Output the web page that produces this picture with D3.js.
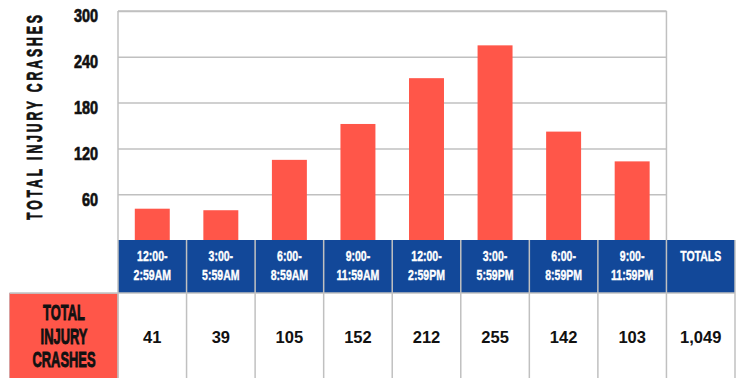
<!DOCTYPE html>
<html>
<head>
<meta charset="utf-8">
<script src="https://cdn.jsdelivr.net/npm/d3@7"></script>
<style>
  body { margin: 0; background: #fff; }
  svg { display: block; }
</style>
</head>
<body>
<div id="chart"></div>
<script>
var timeSlots = [["12:00-", "2:59AM"], ["3:00-", "5:59AM"], ["6:00-", "8:59AM"], ["9:00-", "11:59AM"],
                 ["12:00-", "2:59PM"], ["3:00-", "5:59PM"], ["6:00-", "8:59PM"], ["9:00-", "11:59PM"]];
var crashes = [41, 39, 105, 152, 212, 255, 142, 103];
var yTicks = [60, 120, 180, 240, 300];
var axisTitle = "TOTAL INJURY CRASHES";
var rowLabel = ["TOTAL", "INJURY", "CRASHES"];
var totalsLabel = "TOTALS";

var width = 740, height = 378;
// no condensed face installed, so bold Liberation Sans gets squeezed horizontally
// and given a thin stroke to keep it heavy
var font = "'Liberation Sans', Arial, sans-serif";
var red = "#ff5649", blue = "#124899", grid = "#c0c0c0";

var svg = d3.select("#chart").append("svg")
    .attr("width", width)
    .attr("height", height);

var keys = d3.range(crashes.length).concat(["totals"]);
var col = d3.scaleBand().domain(keys).range([118, 735]);
var plotRight = col(crashes.length - 1) + col.bandwidth();

var x = d3.scaleBand().domain(d3.range(crashes.length)).range([118, plotRight]).paddingInner(0.49).paddingOuter(0.245);
var y = d3.scaleLinear().domain([0, 300]).range([240, 11]);

// gridlines
var gridAxis = d3.axisLeft(y).tickValues(yTicks).tickSize(-(plotRight - 118)).tickFormat("");
svg.append("g")
    .attr("transform", "translate(118,0)")
    .call(gridAxis)
    .call(function(g) {
        g.select(".domain").remove();
        g.selectAll("line").attr("stroke", grid).attr("stroke-width", 1.5);
    });

// tick labels
var labelAxis = d3.axisLeft(y).tickValues(yTicks).tickSize(0).tickPadding(0);
svg.append("g")
    .attr("transform", "translate(98,5)")
    .call(labelAxis)
    .call(function(g) {
        g.select(".domain").remove();
        g.selectAll("text")
            .attr("x", 0)
            .attr("transform", "scale(0.78,1)")
            .attr("fill", "#111")
            .attr("stroke", "#111")
            .attr("stroke-width", 0.7)
            .style("font-family", font)
            .style("font-weight", "bold")
            .style("font-size", "18.5px");
    });

// axis title
svg.append("text")
    .attr("transform", "translate(42,117.5) rotate(-90) scale(0.57,1)")
    .attr("x", 0)
    .attr("text-anchor", "middle")
    .attr("textLength", 205 / 0.57)
    .attr("lengthAdjust", "spacing")
    .attr("fill", "#111")
    .attr("stroke", "#111")
    .attr("stroke-width", 0.8)
    .style("font-family", font)
    .style("font-weight", "bold")
    .style("font-size", "21.5px")
    .text(axisTitle);

// bars
svg.append("g").selectAll("rect")
    .data(crashes)
    .join("rect")
    .attr("x", function(d, i) { return x(i); })
    .attr("y", function(d) { return y(d); })
    .attr("width", x.bandwidth())
    .attr("height", function(d) { return y(0) - y(d); })
    .attr("fill", red);

// header row
var headTop = 240, headBottom = 293, rowBottom = 378;
var head = svg.append("g");
head.selectAll("rect")
    .data(keys)
    .join("rect")
    .attr("x", function(d) { return col(d); })
    .attr("y", headTop)
    .attr("width", col.bandwidth())
    .attr("height", headBottom - headTop)
    .attr("fill", blue);

head.selectAll("g")
    .data(keys)
    .join("g")
    .attr("transform", function(d) { return "translate(" + (col(d) + col.bandwidth() / 2) + ",0) scale(0.68,1)"; })
    .each(function(d, i) {
        var lines = d === "totals" ? [totalsLabel] : timeSlots[i];
        d3.select(this).selectAll("text")
            .data(lines)
            .join("text")
            .attr("x", 0)
            .attr("y", function(t, j) { return 261.5 + j * 18.5; })
            .attr("text-anchor", "middle")
            .attr("fill", "#fff")
            .attr("stroke", "#fff")
            .attr("stroke-width", 0.4)
            .style("font-family", font)
            .style("font-weight", "bold")
            .style("font-size", "15.5px")
            .text(function(t) { return t; });
    });

// value row
var values = crashes.concat([d3.sum(crashes)]);
svg.append("g").selectAll("text")
    .data(values)
    .join("text")
    .attr("x", function(d, i) { return col(keys[i]) + col.bandwidth() / 2; })
    .attr("y", 342.5)
    .attr("text-anchor", "middle")
    .attr("fill", "#111")
    .style("font-family", font)
    .style("font-weight", "bold")
    .style("font-size", "16.5px")
    .text(function(d) { return d3.format(",")(d); });

// row label cell
svg.append("rect")
    .attr("x", 9.5)
    .attr("y", headBottom + 0.5)
    .attr("width", 118 - 9.5)
    .attr("height", rowBottom - headBottom)
    .attr("fill", red)
    .attr("stroke", "#d9a0a0")
    .attr("stroke-width", 1);

svg.append("g")
    .attr("transform", "translate(64,0) scale(0.6,1)")
    .selectAll("text")
    .data(rowLabel)
    .join("text")
    .attr("x", 0)
    .attr("y", function(d, i) { return 320.5 + i * 23.5; })
    .attr("text-anchor", "middle")
    .attr("fill", "#111")
    .attr("stroke", "#111")
    .attr("stroke-width", 0.9)
    .style("font-family", font)
    .style("font-weight", "bold")
    .style("font-size", "21.5px")
    .text(function(d) { return d; });

// cell borders
var edges = keys.map(function(k) { return col(k); }).concat([col.range()[1]]);
var borders = svg.append("g").attr("stroke", grid).attr("stroke-width", 1.5);
borders.selectAll("line.v")
    .data(edges)
    .join("line")
    .attr("class", "v")
    .attr("x1", function(d) { return d; })
    .attr("x2", function(d) { return d; })
    .attr("y1", function(d, i) { return i === 0 || d === plotRight ? 11 : headTop; })
    .attr("y2", rowBottom);
borders.append("line")
    .attr("x1", 118).attr("x2", plotRight)
    .attr("y1", 11).attr("y2", 11);
borders.append("line")
    .attr("x1", 9.5).attr("x2", col.range()[1])
    .attr("y1", headBottom).attr("y2", headBottom);
</script>
</body>
</html>
